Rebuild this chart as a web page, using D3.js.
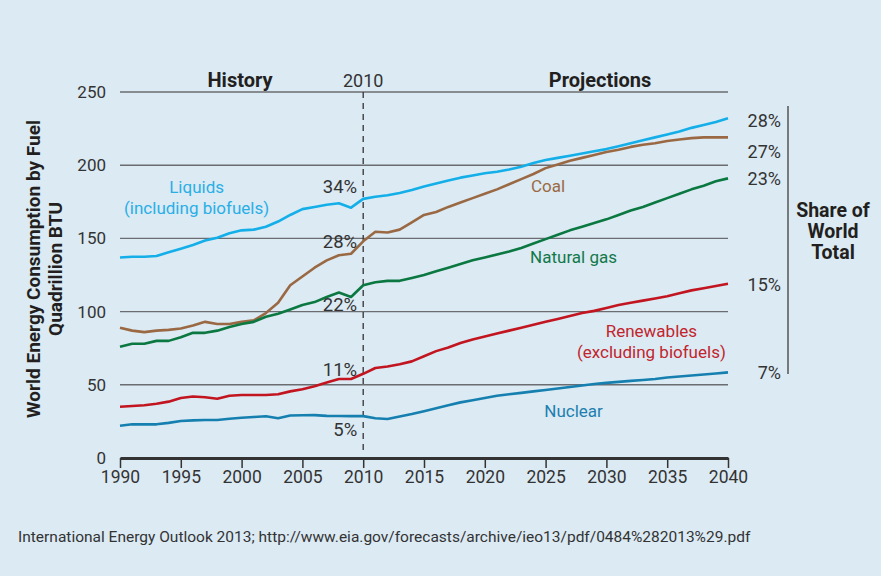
<!DOCTYPE html>
<html>
<head>
<meta charset="utf-8">
<script src="https://cdn.jsdelivr.net/npm/d3@7"></script>
<style>
    html, body { margin: 0; padding: 0; background: #dbeaf3; }
    svg { display: block; font-family: Roboto, "Open Sans", sans-serif; }
</style>
</head>
<body>
<div id="chart"></div>
<script>
// Years 1990..2040, one value per year (quadrillion BTU)
const years = d3.range(1990, 2041);

const liquids = [
    137, 137.5, 137.5, 138, 140.5, 143, 145.5, 148.5, 150.5, 153.5,
    155.5, 156, 158, 161.5, 166, 170, 171.5, 173, 174, 171,
    177, 178.5, 179.5, 181, 183, 185.5, 187.5, 189.5, 191.5, 193,
    194.5, 195.5, 197, 199, 201.5, 203.5, 205, 206.5, 208, 209.5,
    211, 213, 215, 217, 219, 221, 223, 225.5, 227.5, 229.5, 232
];
const coal = [
    89, 87, 86, 87, 87.5, 88.5, 90.5, 93, 91.5, 91.5,
    93, 94, 99, 106, 118, 124, 130, 135, 138.5, 139.5,
    148, 154.5, 154, 156, 161, 166, 168, 171.5, 174.5, 177.5,
    180.5, 183.5, 187, 190.5, 194, 198, 200.5, 203, 205, 207,
    209, 210.5, 212.5, 214, 215, 216.5, 217.5, 218.5, 219, 219, 219
];
const naturalGas = [
    76, 78, 78, 80, 80, 82.5, 85.5, 85.5, 87, 89.5,
    91.5, 93, 96.5, 98.5, 101.5, 104.5, 106.5, 110, 113, 110,
    118, 120, 121, 121, 123, 125, 127.5, 130, 132.5, 135,
    137, 139, 141, 143.5, 146.5, 149.5, 152.5, 155.5, 158, 160.5,
    163, 166, 169, 171.5, 174.5, 177.5, 180.5, 183.5, 186, 189, 191
];
const renewables = [
    35, 35.5, 36, 37, 38.5, 41, 42, 41.5, 40.5, 42.5,
    43, 43, 43, 43.5, 45.5, 47, 49, 51.5, 54, 54,
    57.5, 61.5, 62.5, 64, 66, 69.5, 73, 75.5, 78.5, 81,
    83, 85, 87, 89, 91, 93, 95, 97, 99, 100.5,
    102.5, 104.5, 106, 107.5, 109, 110.5, 112.5, 114.5, 116, 117.5, 119
];
const nuclear = [
    22, 23, 23, 23, 24, 25.3, 25.7, 26, 26, 26.8,
    27.5, 28, 28.5, 27.2, 29, 29.2, 29.3, 28.8, 28.7, 28.6,
    28.6, 27.2, 26.6, 28.3, 30, 32, 34, 36, 38, 39.5,
    41, 42.5, 43.5, 44.5, 45.5, 46.5, 47.5, 48.5, 49.5, 50.5,
    51.3, 52, 52.7, 53.3, 54, 55, 55.7, 56.3, 57, 57.7, 58.5
];

const xTicks = d3.range(1990, 2041, 5);
const yTicks = [0, 50, 100, 150, 200, 250];

// share of world total, 2010 and 2040
const share2010 = ["34%", "28%", "22%", "11%", "5%"];
const share2040 = ["28%", "27%", "23%", "15%", "7%"];

const series = [
    {name: "Liquids", sub: "(including biofuels)", values: liquids, color: "#14afe9", label: "#29afe6"},
    {name: "Coal", sub: null, values: coal, color: "#9a6944", label: "#9a6944"},
    {name: "Natural gas", sub: null, values: naturalGas, color: "#0a7840", label: "#12784a"},
    {name: "Renewables", sub: "(excluding biofuels)", values: renewables, color: "#c2151f", label: "#c2252d"},
    {name: "Nuclear", sub: null, values: nuclear, color: "#1580b0", label: "#1d7fb0"}
];

// label placement (x in years, y in data units)
const nameAt = [[1996.3, 185], [2025.2, 185.5], [2027.3, 137], [2033.7, 87], [2027.3, 32]];
const share2010At = [185.3, 147.7, 104.5, 60.6, 19.6];
const share2040At = [230.2, 209.2, 191, 118.2, 58.3];

const W = 881, H = 576;
const svg = d3.select("#chart").append("svg")
    .attr("width", W)
    .attr("height", H);

svg.append("rect")
    .attr("width", W)
    .attr("height", H)
    .attr("fill", "#dbeaf3");

const x = d3.scaleLinear().domain([1990, 2040]).range([120, 728]);
const y = d3.scaleLinear().domain([0, 250]).range([458, 92]);

// gridlines
svg.append("g")
    .selectAll("line")
    .data(yTicks.filter(d => d > 0))
    .join("line")
    .attr("x1", x(1990))
    .attr("x2", x(2040))
    .attr("y1", d => y(d))
    .attr("y2", d => y(d))
    .attr("stroke", "#6b6d70")
    .attr("stroke-width", 1.4);

// y axis labels
const yAxis = svg.append("g")
    .attr("transform", "translate(" + x(1990) + ",0)")
    .call(d3.axisLeft(y).tickValues(yTicks).tickSize(0).tickPadding(14));
yAxis.select(".domain").remove();
yAxis.selectAll("text")
    .attr("font-size", 17)
    .attr("font-family", "Roboto, sans-serif")
    .attr("fill", "#333");

// x axis
const xAxis = svg.append("g")
    .attr("transform", "translate(0," + y(0) + ")")
    .call(d3.axisBottom(x).tickValues(xTicks).tickFormat(d3.format("d")).tickSize(10).tickSizeOuter(0).tickPadding(3));
xAxis.select(".domain")
    .attr("stroke", "#333")
    .attr("stroke-width", 3);
xAxis.selectAll(".tick line")
    .attr("stroke", "#333")
    .attr("stroke-width", 1.5);
xAxis.selectAll("text")
    .attr("font-size", 17.5)
    .attr("font-family", "Roboto, sans-serif")
    .attr("fill", "#333");

// 2010 divider
svg.append("line")
    .attr("x1", x(2010))
    .attr("x2", x(2010))
    .attr("y1", y(250))
    .attr("y2", y(4))
    .attr("stroke", "#333")
    .attr("stroke-width", 1.3)
    .attr("stroke-dasharray", "6,5");

// header
const head = svg.append("g").attr("fill", "#231f20").attr("font-size", 20).attr("text-anchor", "middle");
head.append("text").attr("x", 240).attr("y", 87).attr("font-weight", "bold").text("History");
head.append("text").attr("x", x(2010)).attr("y", 87).attr("font-size", 18).attr("fill", "#333").text("2010");
head.append("text").attr("x", 600).attr("y", 87).attr("font-weight", "bold").text("Projections");

// lines
const lineGen = function (vals) {
    return d3.line()
        .x((d, i) => x(years[i]))
        .y(d => y(d))(vals);
};
svg.append("g")
    .selectAll("path")
    .data(series)
    .join("path")
    .attr("fill", "none")
    .attr("stroke", d => d.color)
    .attr("stroke-width", 2.6)
    .attr("stroke-linejoin", "round")
    .attr("d", d => lineGen(d.values));

// series names
series.forEach(function (s, i) {
    let t = svg.append("text")
        .attr("x", x(nameAt[i][0]))
        .attr("y", y(nameAt[i][1]))
        .attr("text-anchor", "middle")
        .attr("font-size", 17)
        .attr("fill", s.label)
        .attr("dy", "0.35em");
    t.append("tspan").attr("x", x(nameAt[i][0])).text(s.name);
    if (s.sub) {
        t.append("tspan").attr("x", x(nameAt[i][0])).attr("dy", 21).text(s.sub);
    }
});

// shares at 2010
svg.append("g")
    .selectAll("text")
    .data(share2010)
    .join("text")
    .attr("x", x(2010) - 6)
    .attr("y", (d, i) => y(share2010At[i]))
    .attr("dy", "0.35em")
    .attr("text-anchor", "end")
    .attr("font-size", 18.5)
    .attr("fill", "#333")
    .text(d => d);

// shares at 2040
svg.append("g")
    .selectAll("text")
    .data(share2040)
    .join("text")
    .attr("x", 781)
    .attr("y", (d, i) => y(share2040At[i]))
    .attr("dy", "0.35em")
    .attr("text-anchor", "end")
    .attr("font-size", 18)
    .attr("fill", "#333")
    .text(d => d);

svg.append("line")
    .attr("x1", 788).attr("x2", 788)
    .attr("y1", 106).attr("y2", 374)
    .attr("stroke", "#555")
    .attr("stroke-width", 1.5);

const share = svg.append("text")
    .attr("text-anchor", "middle")
    .attr("font-size", 19.5)
    .attr("font-weight", "bold")
    .attr("fill", "#231f20");
["Share of", "World", "Total"].forEach(function (l, i) {
    share.append("tspan").attr("x", 833).attr("y", 217 + i * 21).text(l);
});

// y title
const yTitle = svg.append("text")
    .attr("transform", "translate(0,269) rotate(-90)")
    .attr("text-anchor", "middle")
    .attr("font-size", 19)
    .attr("font-weight", "bold")
    .attr("fill", "#231f20");
yTitle.append("tspan").attr("x", 0).attr("y", 40).text("World Energy Consumption by Fuel");
yTitle.append("tspan").attr("x", 0).attr("y", 62).text("Quadrillion BTU");

// source
svg.append("text")
    .attr("x", 18)
    .attr("y", 542)
    .attr("font-size", 15.5)
    .attr("fill", "#333")
    .text("International Energy Outlook 2013; http://www.eia.gov/forecasts/archive/ieo13/pdf/0484%282013%29.pdf");
</script>
</body>
</html>
